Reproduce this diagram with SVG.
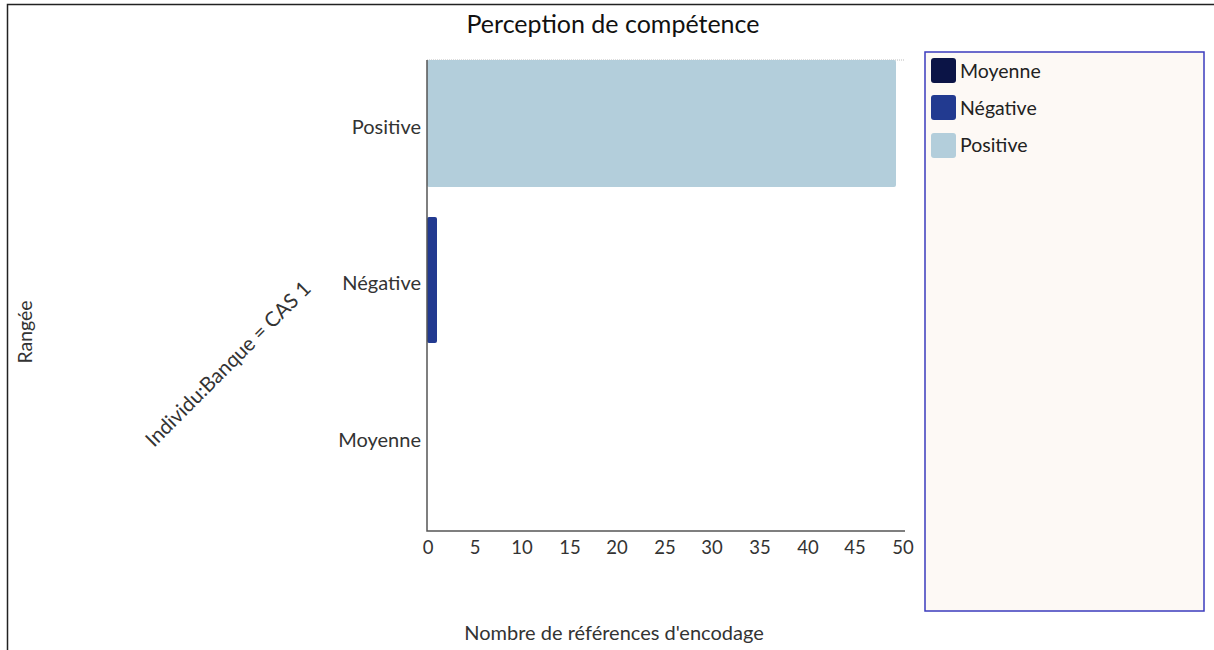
<svg xmlns="http://www.w3.org/2000/svg" width="1214" height="650" viewBox="0 0 1214 650">
<style>
text{font-family:Lato,"Liberation Sans",sans-serif;fill:#333}
.cat{font-size:20px;text-anchor:end}
.tick{font-size:18.5px;text-anchor:middle}
.leg{font-size:19.5px;fill:#222}
</style>
<rect x="0" y="0" width="1214" height="650" fill="#fff"/>
<g id="frame">
<path d="M7.5 650 V4.5 H1214" fill="none" stroke="#222" stroke-width="1.5"/>
</g>
<g id="title"><text x="613" y="33" font-size="25" text-anchor="middle" style="fill:#111">Perception de compétence</text></g>
<g id="plot">
<line x1="427" y1="60" x2="905" y2="60" stroke="#bbb" stroke-width="1" stroke-dasharray="1,1"/>
<rect id="bar-positive" x="427" y="60" width="469" height="127" rx="2" fill="#b3cedb"/>
<rect id="bar-negative" x="427" y="217" width="10" height="126" rx="2" fill="#223a90"/>
<path d="M427 60 V531 H905" fill="none" stroke="#555" stroke-width="1.5"/>
</g>
<g id="ylabels">
<text class="cat" x="421" y="134">Positive</text>
<text class="cat" x="421" y="290">Négative</text>
<text class="cat" x="421" y="447">Moyenne</text>
</g>
<g id="xticks">
<text class="tick" x="428" y="554">0</text>
<text class="tick" x="475" y="554">5</text>
<text class="tick" x="522" y="554">10</text>
<text class="tick" x="570" y="554">15</text>
<text class="tick" x="617" y="554">20</text>
<text class="tick" x="665" y="554">25</text>
<text class="tick" x="712" y="554">30</text>
<text class="tick" x="760" y="554">35</text>
<text class="tick" x="808" y="554">40</text>
<text class="tick" x="855" y="554">45</text>
<text class="tick" x="903" y="554">50</text>
</g>
<g id="axis-titles">
<text x="614" y="640" font-size="20" text-anchor="middle">Nombre de références d'encodage</text>
<text transform="translate(32,332) rotate(-90)" font-size="19.5" text-anchor="middle">Rangée</text>
<text transform="translate(233,369) rotate(-45)" font-size="20.5" text-anchor="middle">Individu:Banque = CAS 1</text>
</g>
<g id="legend">
<rect x="925" y="52" width="279" height="559" fill="#fdf9f5" stroke="#3b3bbd" stroke-width="1.5"/>
<rect x="931" y="58" width="25" height="25" rx="3" fill="#0b1446"/>
<text class="leg" x="960" y="78">Moyenne</text>
<rect x="931" y="95" width="25" height="25" rx="3" fill="#223a90"/>
<text class="leg" x="960" y="115">Négative</text>
<rect x="931" y="133" width="25" height="25" rx="3" fill="#b3cedb"/>
<text class="leg" x="960" y="152">Positive</text>
</g>
</svg>
